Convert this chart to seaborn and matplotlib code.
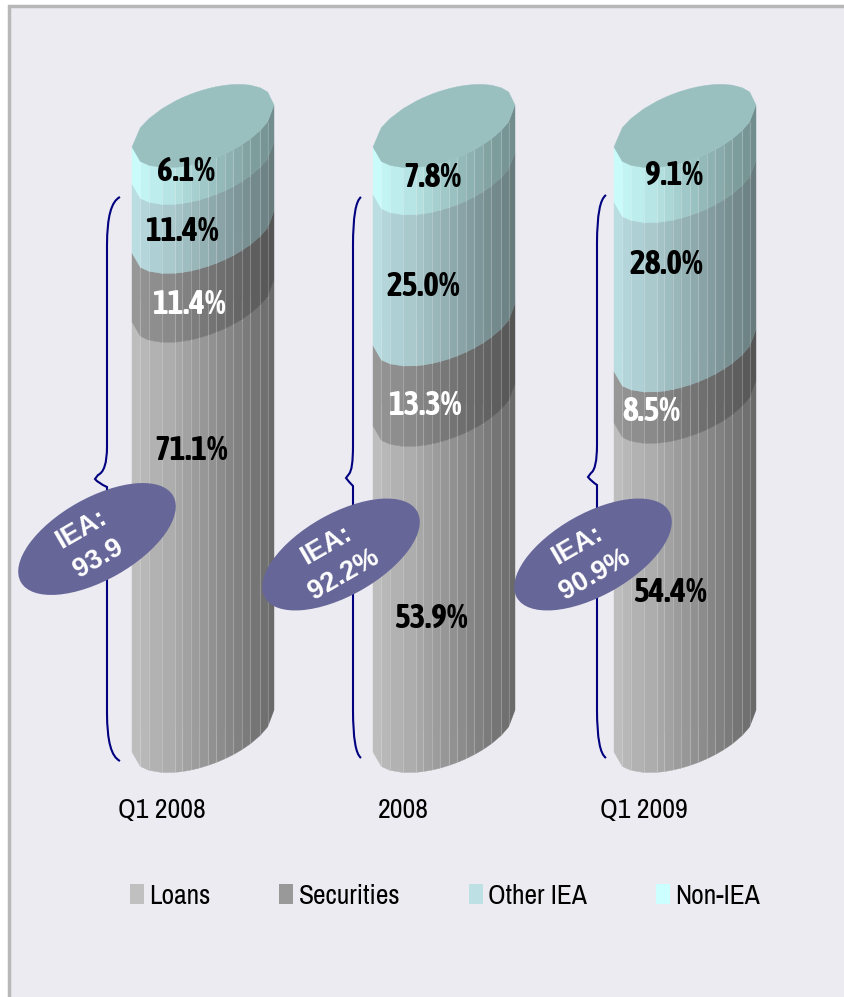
import numpy as np
import seaborn as sns
from matplotlib import pyplot as plt
from matplotlib.colors import to_rgb
from matplotlib.patches import Ellipse, PathPatch, Polygon, Rectangle
from matplotlib.path import Path
from matplotlib.transforms import Affine2D, IdentityTransform

periods = ["Q1 2008", "2008", "Q1 2009"]
series_names = ["Loans", "Securities", "Other IEA", "Non-IEA"]
loans = [71.1, 53.9, 54.4]
securities = [11.4, 13.3, 8.5]
other_iea = [11.4, 25.0, 28.0]
non_iea = [6.1, 7.8, 9.1]
iea_labels = ["IEA:\n93.9", "IEA:\n92.2%", "IEA:\n90.9%"]

colors = ["#c0c0c0", "#999999", "#bce0e4", "#ccffff"]
label_colors = ["black", "white", "black", "black"]

W, H = 845, 997
# pixel coords of the labels, same order as series_names
label_pos = [
    [(191, 450), (431, 618), (670, 592)],
    [(189, 304), (425, 405), (651, 411)],
    [(182, 231), (423, 286), (666, 264)],
    [(186, 171), (432, 177), (674, 175)],
]
# x_end, x_line, x_tip, y_top, y_tip, y_bottom
braces = [
    (120, 107, 95, 197, 479, 761),
    (361, 353, 346, 197, 478, 758),
    (606, 597, 588, 195, 477, 758),
]
bubbles = [(97, 539), (341, 554.5), (593, 554.5)]
bubble_text = [(90, 544), (335, 560), (586, 560)]
# facets of the fake cylinder, -1 left edge, 1 right edge
facet_px = [0, 8.4, 17, 30, 43.4, 50.4, 59, 66.7, 76.4, 84.4, 92.7, 101.4, 109.7, 118.4, 128.4, 135.7, 142]
facets = np.array(facet_px) / 71 - 1

sns.set_theme(style="white")
plt.rcParams["font.family"] = ["Archivo Narrow", "Liberation Sans"]
BOLD_FONT = ["Asap Condensed", "Liberation Sans"]

fig = plt.figure(figsize=(W / 100, H / 100), dpi=100, facecolor="white")
ax = fig.add_axes([0, 1 - 790 / H, 1, 790 / H], facecolor="none")
px = Affine2D().scale(1, -1).translate(0, H)

fig.patches.append(Rectangle((9, 6), W + 20, H + 20, transform=px, facecolor="#ecebf2",
                             edgecolor="#b8b8b8", linewidth=2.5, zorder=-5))

SCALE = 6.05  # pixels per percentage point
TILT = 21 / SCALE
DEPTH = 36 / SCALE


def front_curve(value):
    return value + TILT * facets - DEPTH * np.sqrt(1 - facets ** 2)


def draw_segment(bar, color):
    cx = bar.get_x() + bar.get_width() / 2
    half = bar.get_width() / 2
    xs = cx + facets * half
    low = front_curve(bar.get_y())
    high = front_curve(bar.get_y() + bar.get_height())
    outline = np.r_[np.c_[xs, low], np.c_[xs, high][::-1]]
    bar.set_clip_path(Polygon(outline, transform=ax.transData))
    rgb = np.array(to_rgb(color))
    for i in range(len(xs) - 1):
        shade = 1 - 0.46 * (i + 0.5) / (len(xs) - 1)
        quad = [(xs[i], low[i]), (xs[i + 1], low[i + 1]), (xs[i + 1], high[i + 1]), (xs[i], high[i])]
        ax.add_patch(Polygon(quad, facecolor=rgb * shade, edgecolor=rgb * shade, linewidth=0.3, zorder=3))
        if i > 0:
            ax.plot([xs[i], xs[i]], [low[i], high[i]], color="white", alpha=0.22, linewidth=0.8, zorder=3.1)


bottom = np.zeros(3)
for name, values, color in zip(series_names, [loans, securities, other_iea, non_iea], colors):
    sns.barplot(x=periods, y=values, bottom=bottom, color=color, saturation=1, width=142 / 241,
                label=name, ax=ax, zorder=2, linewidth=0)
    for bar in ax.containers[-1]:
        draw_segment(bar, color)
    bottom = bottom + np.array(values)

# flat top of each cylinder
for i, total in enumerate(bottom):
    xs = i + facets * 71 / 241
    low = total + TILT * facets - DEPTH * np.sqrt(1 - facets ** 2)
    high = total + TILT * facets + DEPTH * np.sqrt(1 - facets ** 2)
    ax.add_patch(Polygon(np.r_[np.c_[xs, low], np.c_[xs, high][::-1]], facecolor="#99c0bf",
                         edgecolor="#99c0bf", linewidth=0.3, zorder=3.2))

ax.set_xlim(-203 / 241, (W - 203) / 241)
ax.set_ylim((731 - 790) / SCALE, 731 / SCALE)
ax.set_xticks(np.arange(3) - 41 / 241, periods)
ax.set_yticks([])
ax.set_ylabel("")
ax.tick_params(axis="x", length=0, pad=6, labelsize=20, labelcolor="black")
sns.despine(ax=ax, left=True, bottom=True)

for name_labels, values, color in zip(label_pos, [loans, securities, other_iea, non_iea], label_colors):
    for (x, y), v in zip(name_labels, values):
        ax.text(x, y, f"{v:.1f}%", transform=px, ha="center", va="center", color=color,
                fontsize=24, fontweight="bold", family=BOLD_FONT, zorder=8)

for x_end, x_line, x_tip, y_top, y_tip, y_bottom in braces:
    verts = [(x_end, y_top), (x_line, y_top + 6), (x_line, y_top + 48),
             (x_line, y_tip - 32), (x_line, y_tip - 8), (x_tip + 3, y_tip - 4), (x_tip, y_tip),
             (x_tip + 3, y_tip + 4), (x_line, y_tip + 8), (x_line, y_tip + 32),
             (x_line, y_bottom - 48), (x_line, y_bottom - 6), (x_end, y_bottom)]
    codes = [Path.MOVETO, Path.CURVE3, Path.CURVE3, Path.LINETO, Path.CURVE3, Path.CURVE3, Path.LINETO,
             Path.CURVE3, Path.CURVE3, Path.LINETO, Path.LINETO, Path.CURVE3, Path.CURVE3]
    ax.add_patch(PathPatch(Path(verts, codes), transform=px, facecolor="none", edgecolor="#000080",
                           linewidth=1.5, zorder=4, clip_on=False))

for (x, y), (tx, ty), txt in zip(bubbles, bubble_text, iea_labels):
    ax.add_patch(Ellipse((x, y), 175, 82, angle=-29.5, transform=px, facecolor="#666699",
                         edgecolor="none", zorder=5, clip_on=False))
    ax.text(tx, ty, txt, transform=px, rotation=30, rotation_mode="anchor", ha="center", va="center",
            multialignment="center", color="white", fontsize=19.5, fontweight="bold",
            family="Liberation Sans", linespacing=1.4, zorder=8)

ax.legend(loc="center left", bbox_to_anchor=(130, H - 896), bbox_transform=IdentityTransform(), ncol=4,
          frameon=False, fontsize=19.8, labelcolor="black", borderpad=0, borderaxespad=0,
          handlelength=0.5, handleheight=0.7, handletextpad=0.2, columnspacing=2.5)

fig.savefig("out.png", dpi=100)
